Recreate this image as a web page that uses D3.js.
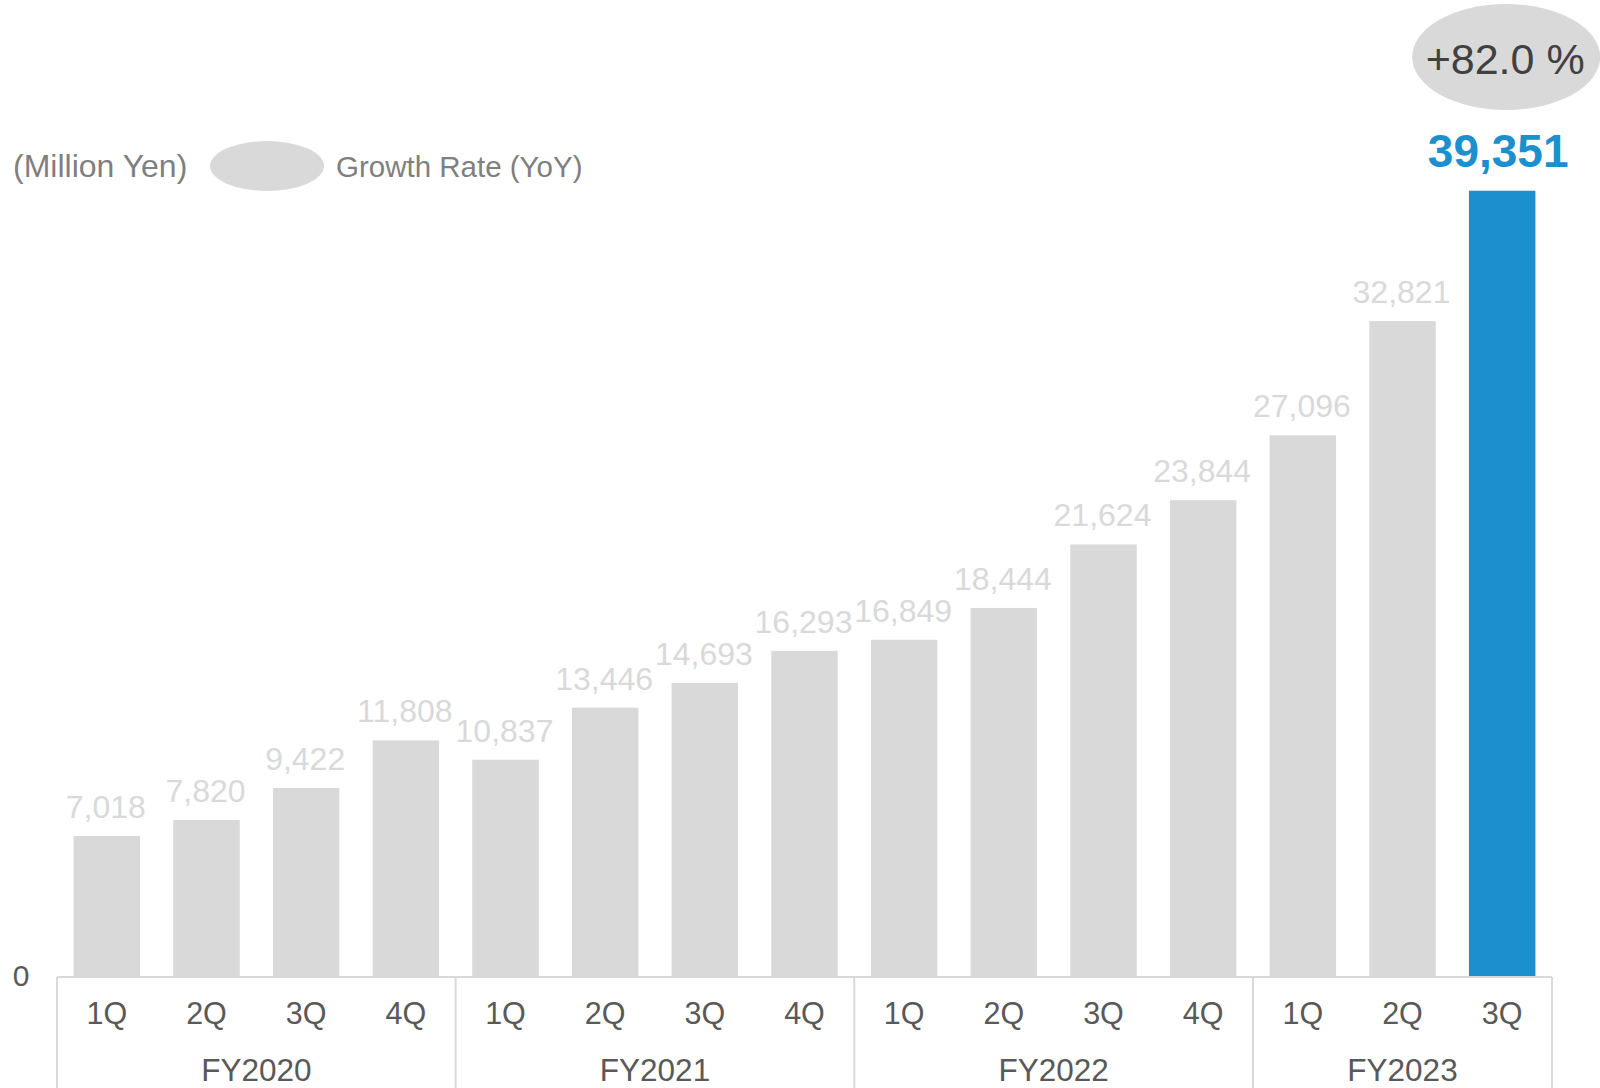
<!DOCTYPE html>
<html>
<head>
<meta charset="utf-8">
<script src="https://cdn.jsdelivr.net/npm/d3@7"></script>
<style>
  body { margin: 0; background: #fff; }
  svg text { font-family: "Liberation Sans", Arial, sans-serif; }
</style>
</head>
<body>
<div id="container"></div>
<script>
// quarterly values (million yen)
var quarterLabels = ["1Q", "2Q", "3Q", "4Q", "1Q", "2Q", "3Q", "4Q", "1Q", "2Q", "3Q", "4Q", "1Q", "2Q", "3Q"];
var yearOfBar = ["FY2020", "FY2020", "FY2020", "FY2020", "FY2021", "FY2021", "FY2021", "FY2021",
                 "FY2022", "FY2022", "FY2022", "FY2022", "FY2023", "FY2023", "FY2023"];
var fiscalYears = ["FY2020", "FY2021", "FY2022", "FY2023"];
var revenue = [7018, 7820, 9422, 11808, 10837, 13446, 14693, 16293, 16849, 18444, 21624, 23844, 27096, 32821, 39351];
var highlightIndex = 14;
var growthLabel = "+82.0 %";
var unitLabel = "(Million Yen)";
var legendLabel = "Growth Rate (YoY)";

const width = 1600;
const height = 1088;
const baseline = 976;

const grey = "#d9d9d9";
const blue = "#1c8fce";

const svg = d3.select("div#container").append("svg")
    .attr("width", width)
    .attr("height", height);

//----------------------------SCALES----------------------------//
const xScale = d3.scaleBand()
    .domain(d3.range(revenue.length))
    .range([57, 1552])
    .paddingInner(1 / 3)
    .paddingOuter(1 / 6);

const yScale = d3.scaleLinear()
    .domain([0, 40000])
    .range([baseline, baseline - 798.2]);

const step = xScale.step();
// left edge of the slot a bar sits in
function slotLeft(i) { return xScale(i) - step * xScale.paddingOuter(); }

//-----------------------------BARS-----------------------------//
svg.selectAll("rect.bar")
    .data(revenue)
    .enter()
    .append("rect")
    .attr("class", "bar")
    .attr("x", function(d, i) { return xScale(i); })
    .attr("y", function(d) { return yScale(d); })
    .attr("width", xScale.bandwidth())
    .attr("height", function(d) { return yScale(0) - yScale(d); })
    .attr("fill", function(d, i) { return i == highlightIndex ? blue : grey; });

// value labels
svg.selectAll("text.value")
    .data(revenue)
    .enter()
    .append("text")
    .attr("class", "value")
    .attr("x", function(d, i) { return xScale(i) + xScale.bandwidth() / 2 + (i == highlightIndex ? -4 : -1); })
    .attr("y", function(d, i) { return yScale(d) - (i == highlightIndex ? 24 : 18); })
    .attr("text-anchor", "middle")
    .attr("font-size", function(d, i) { return i == highlightIndex ? 46 : 32; })
    .attr("font-weight", function(d, i) { return i == highlightIndex ? "bold" : "normal"; })
    .attr("fill", function(d, i) { return i == highlightIndex ? blue : grey; })
    .text(function(d) { return d3.format(",")(d); });

//-----------------------------AXES-----------------------------//
const axisG = svg.append("g").attr("class", "xaxis");

axisG.append("line")
    .attr("x1", xScale.range()[0])
    .attr("x2", xScale.range()[1])
    .attr("y1", baseline + 1)
    .attr("y2", baseline + 1)
    .attr("stroke", grey)
    .attr("stroke-width", 2);

// group separators: one at each year start and one at the end
var firstIdx = fiscalYears.map(function(fy) { return yearOfBar.indexOf(fy); });
var sepX = firstIdx.map(slotLeft).concat([xScale.range()[1]]);

axisG.selectAll("line.sep")
    .data(sepX)
    .enter()
    .append("line")
    .attr("class", "sep")
    .attr("x1", function(d) { return d; })
    .attr("x2", function(d) { return d; })
    .attr("y1", baseline + 1)
    .attr("y2", height)
    .attr("stroke", grey)
    .attr("stroke-width", 2);

axisG.selectAll("text.quarter")
    .data(quarterLabels)
    .enter()
    .append("text")
    .attr("class", "quarter")
    .attr("x", function(d, i) { return xScale(i) + xScale.bandwidth() / 2; })
    .attr("y", 1024)
    .attr("text-anchor", "middle")
    .attr("font-size", 30.5)
    .attr("fill", "#595959")
    .text(function(d) { return d; });

axisG.selectAll("text.year")
    .data(fiscalYears)
    .enter()
    .append("text")
    .attr("class", "year")
    .attr("x", function(d, k) { return (sepX[k] + sepX[k + 1]) / 2; })
    .attr("y", 1081)
    .attr("text-anchor", "middle")
    .attr("font-size", 31.5)
    .attr("fill", "#595959")
    .text(function(d) { return d; });

// zero label
svg.append("text")
    .attr("x", 21)
    .attr("y", yScale(0) + 10)
    .attr("text-anchor", "middle")
    .attr("font-size", 30)
    .attr("fill", "#595959")
    .text(d3.format(",")(yScale.domain()[0]));

//---------------------------GROWTH-----------------------------//
var hx = xScale(highlightIndex) + xScale.bandwidth() / 2;

svg.append("ellipse")
    .attr("cx", hx + 4)
    .attr("cy", 57)
    .attr("rx", 94)
    .attr("ry", 53)
    .attr("fill", grey);

svg.append("text")
    .attr("x", hx + 3)
    .attr("y", 74)
    .attr("text-anchor", "middle")
    .attr("font-size", 43)
    .attr("fill", "#404040")
    .text(growthLabel);

//---------------------------LEGEND-----------------------------//
svg.append("text")
    .attr("x", 13)
    .attr("y", 177)
    .attr("font-size", 32)
    .attr("fill", "#7f7f7f")
    .text(unitLabel);

svg.append("ellipse")
    .attr("cx", 267)
    .attr("cy", 166)
    .attr("rx", 57)
    .attr("ry", 25)
    .attr("fill", grey);

svg.append("text")
    .attr("x", 336)
    .attr("y", 177)
    .attr("font-size", 29.5)
    .attr("fill", "#7f7f7f")
    .text(legendLabel);
</script>
</body>
</html>
